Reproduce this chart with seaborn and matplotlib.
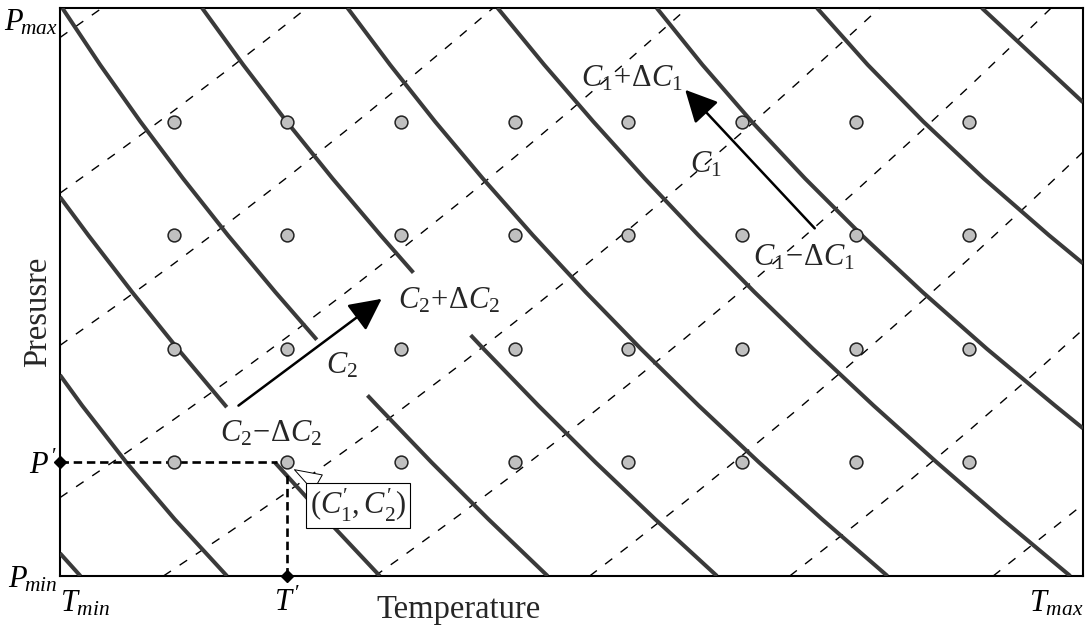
import matplotlib
matplotlib.use("Agg")
import matplotlib.pyplot as plt
import numpy as np
import pandas as pd
import seaborn as sns

# ---------------- data (T in 0..9, P in 0..5) ----------------
grid_T = [1, 2, 3, 4, 5, 6, 7, 8]
grid_P = [1, 2, 3, 4]

# iso-C1 curves (thick solid)
c1_a_T = [0.00, 0.18]
c1_a_P = [0.20, 0.00]
c1_b_T = [0.00, 0.195, 0.584, 1.009, 1.469]
c1_b_P = [1.769, 1.50, 1.00, 0.50, 0.00]
c1_c1_T = [0.00, 0.249, 0.634, 1.036, 1.467]
c1_c1_P = [3.336, 3.00, 2.50, 2.00, 1.486]
c1_c2_T = [1.89, 2.344, 2.814]
c1_c2_P = [1.00, 0.50, 0.00]
c1_d1_T = [0.02, 0.353, 0.707, 1.082, 1.477, 1.894, 2.259]
c1_d1_P = [5.00, 4.50, 4.00, 3.50, 3.00, 2.50, 2.08]
c1_d2_T = [2.705, 2.79, 3.269, 3.769, 4.29]
c1_d2_P = [1.59, 1.50, 1.00, 0.50, 0.00]
c1_e1_T = [1.25, 1.612, 1.994, 2.397, 2.82, 3.109]
c1_e1_P = [5.00, 4.50, 4.00, 3.50, 3.00, 2.67]
c1_e2_T = [3.613, 3.726, 4.209, 4.712, 5.236, 5.78]
c1_e2_P = [2.12, 2.00, 1.50, 1.00, 0.50, 0.00]
c1_f_T = [2.53, 2.904, 3.30, 3.719, 4.16, 4.624, 5.11, 5.619, 6.15, 6.704, 7.28]
c1_f_P = [5.0, 4.5, 4.0, 3.5, 3.0, 2.5, 2.0, 1.5, 1.0, 0.5, 0.0]
c1_g_T = [3.85, 4.26, 4.692, 5.143, 5.616, 6.109, 6.624, 7.158, 7.714, 8.29, 8.888]
c1_g_P = [5.0, 4.5, 4.0, 3.5, 3.0, 2.5, 2.0, 1.5, 1.0, 0.5, 0.0]
c1_h_T = [5.25, 5.652, 6.086, 6.554, 7.054, 7.588, 8.154, 8.754, 9.00]
c1_h_P = [5.0, 4.5, 4.0, 3.5, 3.0, 2.5, 2.0, 1.5, 1.30]
c1_i_T = [6.66, 7.106, 7.595, 8.126, 8.70, 9.00]
c1_i_P = [5.0, 4.5, 4.0, 3.5, 3.0, 2.752]
c1_j_T = [8.11, 9.00]
c1_j_P = [5.00, 4.17]

# iso-C2 curves (thin dashed)
c2_1_T = [0.00, 0.37]
c2_1_P = [4.74, 5.00]
c2_2_T = [0.0, 0.5, 1.0, 1.5, 2.0, 2.17]
c2_2_P = [3.37, 3.727, 4.095, 4.474, 4.864, 5.00]
c2_3_T = [0.0, 0.5, 1.0, 1.5, 2.0, 2.5, 3.0, 3.5, 3.81]
c2_3_P = [2.03, 2.384, 2.748, 3.124, 3.51, 3.908, 4.316, 4.736, 5.00]
c2_4_T = [0.0, 0.5, 1.0, 1.5, 2.0, 2.5, 3.0, 3.5, 4.0, 4.5, 5.0, 5.52]
c2_4_P = [0.69, 1.028, 1.377, 1.735, 2.105, 2.484, 2.875, 3.275, 3.687, 4.108, 4.54, 5.00]
c2_5_T = [0.91, 1.5, 2.0, 2.5, 3.0, 3.5, 4.0, 4.5, 5.0, 5.5, 6.0, 6.5, 7.0, 7.21]
c2_5_P = [0.00, 0.394, 0.74, 1.097, 1.465, 1.844, 2.234, 2.635, 3.048, 3.471, 3.905, 4.35, 4.807, 5.00]
c2_6_T = [2.77, 3.0, 3.5, 4.0, 4.5, 5.0, 5.5, 6.0, 6.5, 7.0, 7.5, 8.0, 8.5, 8.72]
c2_6_P = [0.00, 0.163, 0.527, 0.902, 1.288, 1.685, 2.094, 2.514, 2.946, 3.389, 3.844, 4.309, 4.787, 5.00]
c2_7_T = [4.66, 5.0, 5.5, 6.0, 6.5, 7.0, 7.5, 8.0, 8.5, 9.0]
c2_7_P = [0.00, 0.261, 0.655, 1.06, 1.476, 1.904, 2.344, 2.795, 3.257, 3.732]
c2_8_T = [6.42, 7.0, 7.5, 8.0, 8.5, 9.0]
c2_8_P = [0.00, 0.454, 0.861, 1.283, 1.719, 2.17]
c2_9_T = [8.21, 9.00]
c2_9_P = [0.00, 0.63]

solid_curves = {
    "a": (c1_a_T, c1_a_P), "b": (c1_b_T, c1_b_P), "c1": (c1_c1_T, c1_c1_P),
    "c2": (c1_c2_T, c1_c2_P), "d1": (c1_d1_T, c1_d1_P), "d2": (c1_d2_T, c1_d2_P),
    "e1": (c1_e1_T, c1_e1_P), "e2": (c1_e2_T, c1_e2_P), "f": (c1_f_T, c1_f_P),
    "g": (c1_g_T, c1_g_P), "h": (c1_h_T, c1_h_P), "i": (c1_i_T, c1_i_P),
    "j": (c1_j_T, c1_j_P),
}
dashed_curves = {
    "1": (c2_1_T, c2_1_P), "2": (c2_2_T, c2_2_P), "3": (c2_3_T, c2_3_P),
    "4": (c2_4_T, c2_4_P), "5": (c2_5_T, c2_5_P), "6": (c2_6_T, c2_6_P),
    "7": (c2_7_T, c2_7_P), "8": (c2_8_T, c2_8_P), "9": (c2_9_T, c2_9_P),
}

# point of interest
T_prime = 2.0
P_prime = 1.0

# arrows (start, tip)
arrow_c1 = [(6.64, 3.06), (5.50, 4.28)]
arrow_c2 = [(1.57, 1.50), (2.83, 2.44)]

labels = [
    ("$C_1\\!+\\!\\mathit{\\Delta} C_1$", 5.03, 4.38),
    ("$C_1$", 5.68, 3.62),
    ("$C_1\\!-\\!\\mathit{\\Delta} C_1$", 6.54, 2.80),
    ("$C_2\\!+\\!\\mathit{\\Delta} C_2$", 3.42, 2.42),
    ("$C_2$", 2.48, 1.85),
    ("$C_2\\!-\\!\\mathit{\\Delta} C_2$", 1.86, 1.25),
]

# ---------------- style ----------------
sns.set_style("white")
plt.rcParams["font.family"] = ["Liberation Serif", "DejaVu Serif"]
plt.rcParams["mathtext.fontset"] = "custom"
plt.rcParams["mathtext.rm"] = "Liberation Serif"
plt.rcParams["mathtext.it"] = "Liberation Serif:italic"
plt.rcParams["mathtext.bf"] = "Liberation Serif:bold"

FS = 22
FS_AX = 23.5

fig = plt.figure(figsize=(10.88, 6.26), dpi=100)
ax = fig.add_axes([60 / 1088, 1 - 576 / 626, 1023 / 1088, 568 / 626])

def to_df(curves):
    rows = []
    for name, (ts, ps) in curves.items():
        for k, (t, p) in enumerate(zip(ts, ps)):
            rows.append({"curve": name, "order": k, "T": t, "P": p})
    return pd.DataFrame(rows)

df_solid = to_df(solid_curves)
df_dash = to_df(dashed_curves)

n0 = len(ax.lines)
sns.lineplot(data=df_dash, x="T", y="P", units="curve", estimator=None,
             sort=False, color="black", linewidth=1.0, ax=ax, legend=False)
for ln in ax.lines[n0:]:
    ln.set_dashes((6.5, 7.5))
    ln.set_zorder(2)

n1 = len(ax.lines)
sns.lineplot(data=df_solid, x="T", y="P", units="curve", estimator=None,
             sort=False, color="#3a3a3a", linewidth=2.9, ax=ax, legend=False)
for ln in ax.lines[n1:]:
    ln.set_zorder(3)
    ln.set_solid_capstyle("butt")
    ln.set_solid_joinstyle("round")

gT, gP = np.meshgrid(grid_T, grid_P)
sns.scatterplot(x=gT.ravel(), y=gP.ravel(), s=85, color="#c0c0c0",
                edgecolor="#222222", linewidth=1.1, zorder=6, ax=ax)

# P' / T' dashed guides
ax.plot([0, T_prime - 0.09], [P_prime, P_prime], color="black", lw=1.9,
        dashes=(3.2, 1.8), zorder=4)
ax.plot([T_prime, T_prime], [0, P_prime - 0.09], color="black", lw=1.9,
        dashes=(3.2, 1.8), zorder=4)
ax.plot([0, T_prime], [P_prime, 0], linestyle="none", marker="D", ms=6.5,
        color="black", zorder=8, clip_on=False)

# arrows
for (s, t) in (arrow_c1, arrow_c2):
    ax.annotate("", xy=t, xytext=s,
                arrowprops=dict(arrowstyle="-|>,head_length=0.9,head_width=0.45",
                                lw=1.8, color="black", shrinkA=0, shrinkB=0,
                                mutation_scale=22), zorder=7)

for txt, x, y in labels:
    ax.text(x, y, txt, fontsize=FS, ha="center", va="center", zorder=9)

# callout
ax.annotate("$(C_1^{\\prime},C_2^{\\prime})$", xy=(T_prime + 0.02, P_prime - 0.04),
            xytext=(2.62, 0.62), fontsize=FS, ha="center", va="center",
            bbox=dict(boxstyle="square,pad=0.12", fc="white", ec="black", lw=0.8),
            arrowprops=dict(arrowstyle="wedge,tail_width=0.6,shrink_factor=0.5",
                            fc="white", ec="black", lw=0.7, shrinkA=0, shrinkB=4),
            zorder=9)

ax.set_xlim(0, 9)
ax.set_ylim(0, 5)
ax.set_xticks([0, T_prime, 9])
ax.set_xticklabels(["$T_{min}$", "$T\\,'$", "$T_{max}$"], fontsize=FS)
ax.set_yticks([0, P_prime, 5])
ax.set_yticklabels(["$P_{\\!min}$", "$P\\,'$", "$P_{\\!max}$"], fontsize=FS)
xt = ax.get_xticklabels()
xt[0].set_ha("left"); xt[2].set_ha("right")
yt = ax.get_yticklabels()
yt[2].set_va("top")
ax.tick_params(axis="both", length=0, colors="black")
ax.tick_params(axis="x", pad=9)
ax.tick_params(axis="y", pad=2)

ax.set_xlabel("Temperature", fontsize=FS_AX)
ax.set_ylabel("Presusre", fontsize=FS_AX)
ax.xaxis.set_label_coords(0.39, -0.033)
ax.yaxis.set_label_coords(-0.007, 0.465)

for sp in ax.spines.values():
    sp.set_visible(True)
    sp.set_color("black")
    sp.set_linewidth(1.5)

fig.savefig("out.png", dpi=100)
